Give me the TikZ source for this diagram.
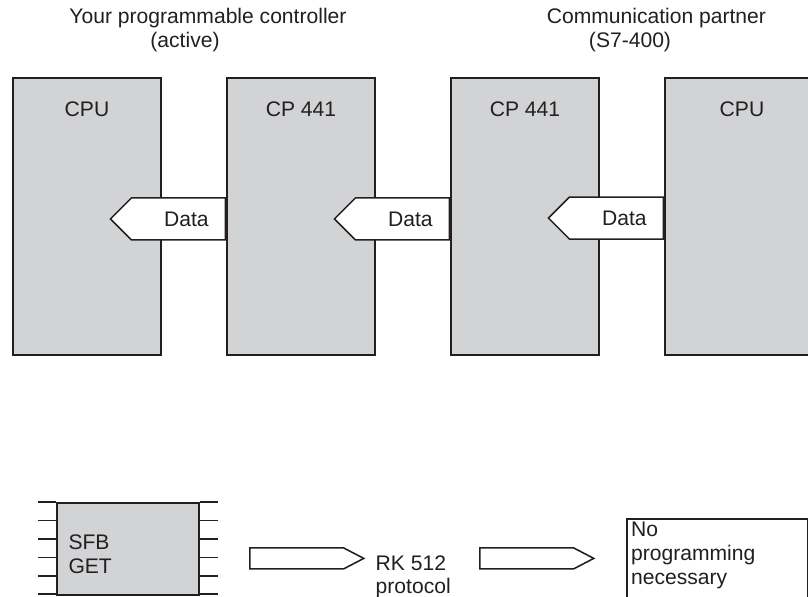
\documentclass[tikz,border=0pt]{standalone}
\usepackage{fontspec}
\setmainfont{Liberation Sans}
\usetikzlibrary{positioning,shapes.symbols,calc}
\definecolor{plcgray}{HTML}{D1D3D4}
\definecolor{plcline}{HTML}{231F20}

\tikzset{
  plcbox/.style={rectangle, draw=plcline, fill=plcgray, line width=1.1pt,
                 minimum width=3.7cm, minimum height=6.925cm, inner sep=0pt},
  boxlabel/.style={inner sep=0pt, text=plcline},
  datasig/.style={signal, signal to=west, signal pointer angle=90,
                  draw=plcline, fill=white, line width=1.1pt,
                  minimum width=2.875cm, minimum height=1.05cm, inner sep=0pt,
                  text=plcline},
  flowsig/.style={signal, signal to=east, signal pointer angle=55,
                  draw=plcline, fill=white, line width=1.1pt,
                  minimum width=2.85cm, minimum height=0.525cm, inner sep=0pt},
  plaintext/.style={inner sep=0pt, text=plcline, align=left}
}

\begin{document}
\begin{tikzpicture}[font=\fontsize{15}{17}\selectfont]
\useasboundingbox (0,0) rectangle (20.2,-14.925);
\clip (0,0) rectangle (20.2,-14.925);

% headings
\node[boxlabel] (ctrlT) at (5.2,-0.45) {Your programmable controller};
\node[boxlabel] (ctrlS) at (4.625,-1.05) {(active)};
\node[boxlabel] (partT) at (16.41,-0.45) {Communication partner};
\node[boxlabel] (partS) at (15.75,-1.05) {(S7-400)};

% modules
\node[plcbox] (cpuL) at (2.175,-5.4125) {};
\node[plcbox] (cpL)  at (7.525,-5.4125) {};
\node[plcbox] (cpR)  at (13.125,-5.4125) {};
\node[plcbox, minimum width=3.85cm] (cpuR) at (18.55,-5.4125) {};

\node[boxlabel] (cpuLt) at ([yshift=-0.8cm]cpuL.north) {CPU};
\node[boxlabel] (cpLt)  at ([yshift=-0.8cm]cpL.north) {CP 441};
\node[boxlabel] (cpRt)  at ([yshift=-0.8cm]cpR.north) {CP 441};
\node[boxlabel] (cpuRt) at ([yshift=-0.8cm]cpuR.north) {CPU};

% data flow
\node[datasig, anchor=east] (dataA) at ([yshift=-0.06cm]cpL.west) {\hspace{0.4cm}Data};
\node[datasig, anchor=east] (dataB) at ([yshift=-0.06cm]cpR.west) {\hspace{0.4cm}Data};
\node[datasig, anchor=east] (dataC) at ([yshift=-0.04cm]cpuR.west) {\hspace{0.4cm}Data};

% bottom row
\node[plcbox, minimum width=3.55cm, minimum height=2.3cm] (sfb) at (3.2,-13.725) {};
\foreach \i in {0,...,5} {
  \draw[plcline, line width=1.1pt] ($(sfb.north west)+(-0.45,-\i*0.46)$) -- ++(0.45,0);
  \draw[plcline, line width=1.1pt] ($(sfb.north east)+(0,-\i*0.46)$) -- ++(0.45,0);
}
\node[plaintext, anchor=west] (sfbt) at ([xshift=0.3cm,yshift=-0.125cm]sfb.west) {SFB\\GET};

\node[flowsig, anchor=west] (rk) at (6.225,-13.96) {};
\node[plaintext, anchor=west] (rkt) at ([xshift=0.25cm,yshift=-0.46cm]rk.east) {RK 512\\protocol};
\node[flowsig, anchor=west] (prg) at (11.975,-13.96) {};

\node[rectangle, draw=plcline, line width=1.1pt, fill=white, anchor=north west,
      minimum width=4.525cm, minimum height=2.6cm, inner sep=0pt]
  (nobox) at (15.65,-12.95) {};
\node[plaintext, anchor=north west] (not) at ([xshift=0.12cm,yshift=-0.1cm]nobox.north west)
  {No\\programming\\necessary};
\end{tikzpicture}
\end{document}
